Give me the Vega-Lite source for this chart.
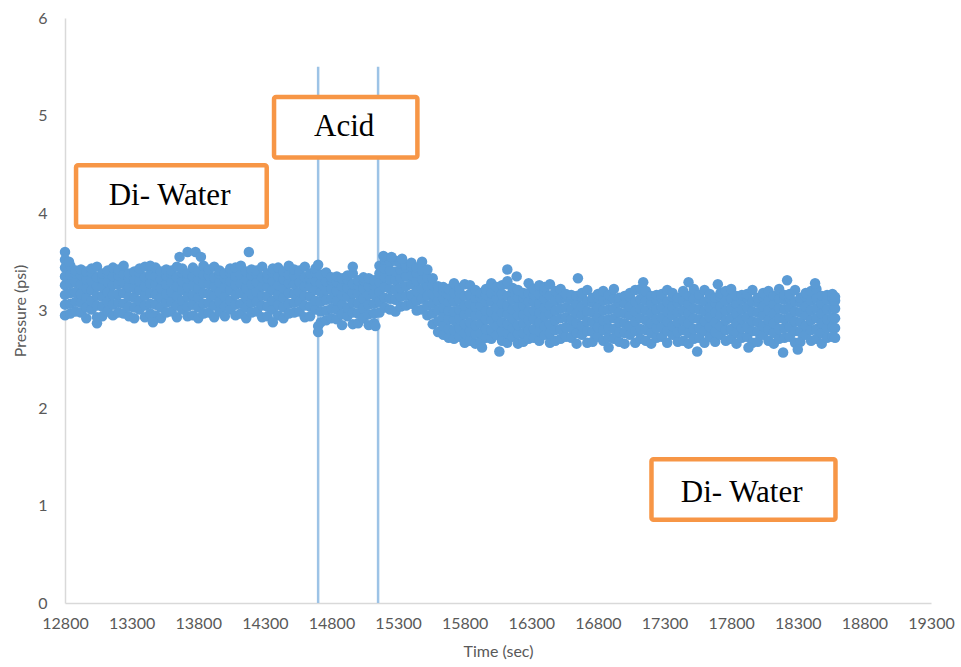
{
  "$schema": "https://vega.github.io/schema/vega-lite/v6.json",
  "width": 866,
  "height": 585,
  "autosize": {"type": "none"},
  "padding": {"left": 65, "top": 18, "right": 30, "bottom": 64},
  "background": "white",
  "config": {
    "view": {"stroke": null},
    "axis": {"labelFont": "Lato", "titleFont": "Lato", "labelColor": "#595959", "titleColor": "#595959", "titleFontWeight": "normal", "domainColor": "#d9d9d9", "domainWidth": 1.5, "ticks": false, "grid": false}
  },
  "layer": [
    {
      "data": {"values": [{"t": 14700}, {"t": 15150}]},
      "mark": {"type": "rule", "color": "#9DC3E6", "strokeWidth": 2.5},
      "encoding": {
        "x": {"field": "t", "type": "quantitative", "scale": {"domain": [12800, 19300], "nice": false, "zero": false},
          "axis": {"title": "Time (sec)", "values": [12800, 13300, 13800, 14300, 14800, 15300, 15800, 16300, 16800, 17300, 17800, 18300, 18800, 19300], "format": "d", "labelFontSize": 16, "labelPadding": 12, "labelOverlap": false, "labelFlush": false, "titleFontSize": 16, "titlePadding": 12}},
        "y": {"datum": 0, "type": "quantitative", "scale": {"domain": [0, 6], "nice": false},
          "axis": {"title": "Pressure (psi)", "values": [0, 1, 2, 3, 4, 5, 6], "format": "d", "labelFontSize": 16, "labelPadding": 18, "titleFontSize": 16, "titlePadding": 9}},
        "y2": {"datum": 5.5}
      }
    },
    {
      "data": {"values": [
{"t":12800,"p":[2.95,3.06,3.16,3.26,3.35,3.44]},
{"t":12840,"p":[2.97,3.07,3.18,3.28,3.37,3.46]},
{"t":12880,"p":[2.99,3.09,3.19,3.29,3.38,3.41]},
{"t":12920,"p":[2.98,3.08,3.17,3.27,3.36,3.42]},
{"t":12960,"p":[2.92,3.03,3.13,3.23,3.32,3.40]},
{"t":13000,"p":[3.01,3.10,3.21,3.30,3.39,3.43]},
{"t":13040,"p":[2.93,3.05,3.15,3.25,3.34,3.45]},
{"t":13080,"p":[2.94,3.04,3.14,3.24,3.33,3.38]},
{"t":13120,"p":[2.99,3.09,3.19,3.29,3.38,3.41]},
{"t":13160,"p":[2.95,3.06,3.16,3.26,3.35,3.44]},
{"t":13200,"p":[2.98,3.08,3.17,3.27,3.36,3.42]},
{"t":13240,"p":[2.97,3.07,3.18,3.28,3.37,3.46]},
{"t":13280,"p":[2.94,3.04,3.14,3.24,3.33,3.38]},
{"t":13320,"p":[2.92,3.03,3.13,3.23,3.32,3.40]},
{"t":13360,"p":[3.01,3.10,3.21,3.30,3.39,3.43]},
{"t":13400,"p":[2.93,3.05,3.15,3.25,3.34,3.45]},
{"t":13440,"p":[2.97,3.07,3.18,3.28,3.37,3.46]},
{"t":13480,"p":[2.95,3.06,3.16,3.26,3.35,3.44]},
{"t":13520,"p":[2.92,3.03,3.13,3.23,3.32,3.40]},
{"t":13560,"p":[2.98,3.08,3.17,3.27,3.36,3.42]},
{"t":13600,"p":[2.99,3.09,3.19,3.29,3.38,3.41]},
{"t":13640,"p":[2.93,3.05,3.15,3.25,3.34,3.45]},
{"t":13680,"p":[3.01,3.10,3.21,3.30,3.39,3.43]},
{"t":13720,"p":[2.94,3.04,3.14,3.24,3.33,3.38]},
{"t":13760,"p":[2.95,3.06,3.16,3.26,3.35,3.44]},
{"t":13800,"p":[2.92,3.03,3.13,3.23,3.32,3.40]},
{"t":13840,"p":[2.97,3.07,3.18,3.28,3.37,3.46]},
{"t":13880,"p":[2.98,3.08,3.17,3.27,3.36,3.42]},
{"t":13920,"p":[2.93,3.05,3.15,3.25,3.34,3.45]},
{"t":13960,"p":[2.99,3.09,3.19,3.29,3.38,3.41]},
{"t":14000,"p":[2.94,3.04,3.14,3.24,3.33,3.38]},
{"t":14040,"p":[3.01,3.10,3.21,3.30,3.39,3.43]},
{"t":14080,"p":[2.95,3.06,3.16,3.26,3.35,3.44]},
{"t":14120,"p":[2.97,3.07,3.18,3.28,3.37,3.46]},
{"t":14160,"p":[2.92,3.03,3.13,3.23,3.32,3.40]},
{"t":14200,"p":[2.98,3.08,3.17,3.27,3.36,3.42]},
{"t":14240,"p":[2.99,3.09,3.19,3.29,3.38,3.41]},
{"t":14280,"p":[2.93,3.05,3.15,3.25,3.34,3.45]},
{"t":14320,"p":[2.94,3.04,3.14,3.24,3.33,3.38]},
{"t":14360,"p":[3.01,3.10,3.21,3.30,3.39,3.43]},
{"t":14400,"p":[2.95,3.06,3.16,3.26,3.35,3.44]},
{"t":14440,"p":[2.92,3.03,3.13,3.23,3.32,3.40]},
{"t":14480,"p":[2.97,3.07,3.18,3.28,3.37,3.46]},
{"t":14520,"p":[2.98,3.08,3.17,3.27,3.36,3.42]},
{"t":14560,"p":[2.99,3.09,3.19,3.29,3.38,3.41]},
{"t":14600,"p":[2.93,3.05,3.15,3.25,3.34,3.45]},
{"t":14640,"p":[2.94,3.04,3.14,3.24,3.33,3.38]},
{"t":14680,"p":[3.01,3.10,3.21,3.30,3.39,3.43]},
{"t":14720,"p":[2.88,2.99,3.09,3.19,3.28,3.37]},
{"t":14760,"p":[2.90,3.00,3.11,3.21,3.30,3.39]},
{"t":14800,"p":[2.92,3.02,3.12,3.22,3.31,3.34]},
{"t":14840,"p":[2.91,3.01,3.10,3.20,3.29,3.35]},
{"t":14880,"p":[2.85,2.96,3.06,3.16,3.25,3.33]},
{"t":14920,"p":[2.94,3.03,3.14,3.23,3.32,3.36]},
{"t":14960,"p":[2.86,2.98,3.08,3.18,3.27,3.38]},
{"t":15000,"p":[2.87,2.97,3.07,3.17,3.26,3.31]},
{"t":15040,"p":[2.92,3.02,3.12,3.22,3.31,3.34]},
{"t":15080,"p":[2.85,2.96,3.06,3.16,3.25,3.33]},
{"t":15120,"p":[2.87,2.97,3.07,3.17,3.26,3.31]},
{"t":15160,"p":[2.98,3.09,3.19,3.29,3.38,3.46]},
{"t":15200,"p":[3.03,3.13,3.24,3.34,3.43,3.52]},
{"t":15240,"p":[3.01,3.12,3.22,3.32,3.41,3.50]},
{"t":15280,"p":[2.99,3.11,3.21,3.31,3.40,3.51]},
{"t":15320,"p":[3.04,3.14,3.23,3.33,3.42,3.48]},
{"t":15360,"p":[3.05,3.15,3.25,3.35,3.44,3.47]},
{"t":15400,"p":[3.07,3.16,3.27,3.36,3.45,3.49]},
{"t":15440,"p":[3.00,3.10,3.20,3.30,3.39,3.44]},
{"t":15480,"p":[3.01,3.12,3.22,3.32,3.41,3.50]},
{"t":15520,"p":[2.95,3.05,3.15,3.25,3.34,3.42]},
{"t":15560,"p":[2.86,2.97,3.07,3.17,3.26,3.33]},
{"t":15600,"p":[2.78,2.89,3.00,3.10,3.19,3.25]},
{"t":15640,"p":[2.75,2.84,2.94,3.03,3.12,3.20,3.24]},
{"t":15680,"p":[2.72,2.81,2.91,3.00,3.09,3.16,3.22]},
{"t":15720,"p":[2.71,2.80,2.90,2.99,3.09,3.18,3.28]},
{"t":15760,"p":[2.73,2.82,2.92,3.01,3.11,3.19,3.23]},
{"t":15800,"p":[2.67,2.77,2.86,2.96,3.05,3.15,3.27]},
{"t":15840,"p":[2.69,2.79,2.88,2.98,3.07,3.17,3.26]},
{"t":15880,"p":[2.66,2.76,2.85,2.95,3.04,3.13,3.21]},
{"t":15920,"p":[2.68,2.77,2.87,2.96,3.05,3.13,3.18]},
{"t":15960,"p":[2.72,2.81,2.91,3.00,3.09,3.16,3.22]},
{"t":16000,"p":[2.71,2.80,2.90,2.99,3.09,3.18,3.28]},
{"t":16040,"p":[2.75,2.84,2.94,3.03,3.12,3.20,3.24]},
{"t":16080,"p":[2.69,2.79,2.88,2.98,3.07,3.17,3.26]},
{"t":16120,"p":[2.67,2.77,2.86,2.96,3.05,3.15,3.27]},
{"t":16160,"p":[2.73,2.82,2.92,3.01,3.11,3.19,3.23]},
{"t":16200,"p":[2.66,2.76,2.85,2.95,3.04,3.13,3.21]},
{"t":16240,"p":[2.68,2.77,2.87,2.96,3.05,3.13,3.18]},
{"t":16280,"p":[2.71,2.80,2.90,2.99,3.09,3.18,3.28]},
{"t":16320,"p":[2.72,2.81,2.91,3.00,3.09,3.16,3.22]},
{"t":16360,"p":[2.69,2.79,2.88,2.98,3.07,3.17,3.26]},
{"t":16400,"p":[2.75,2.84,2.94,3.03,3.12,3.20,3.24]},
{"t":16440,"p":[2.67,2.77,2.86,2.96,3.05,3.15,3.27]},
{"t":16480,"p":[2.69,2.80,2.90,3.00,3.10,3.20]},
{"t":16520,"p":[2.71,2.81,2.92,3.02,3.12,3.22]},
{"t":16560,"p":[2.73,2.83,2.93,3.03,3.13,3.17]},
{"t":16600,"p":[2.72,2.82,2.91,3.01,3.11,3.16]},
{"t":16640,"p":[2.66,2.77,2.87,2.97,3.07,3.15]},
{"t":16680,"p":[2.75,2.84,2.95,3.04,3.14,3.18]},
{"t":16720,"p":[2.67,2.79,2.89,2.99,3.09,3.21]},
{"t":16760,"p":[2.68,2.78,2.88,2.98,3.08,3.13]},
{"t":16800,"p":[2.73,2.83,2.93,3.03,3.13,3.17]},
{"t":16840,"p":[2.69,2.80,2.90,3.00,3.10,3.20]},
{"t":16880,"p":[2.72,2.82,2.91,3.01,3.11,3.16]},
{"t":16920,"p":[2.71,2.81,2.92,3.02,3.12,3.22]},
{"t":16960,"p":[2.68,2.78,2.88,2.98,3.08,3.13]},
{"t":17000,"p":[2.66,2.77,2.87,2.97,3.07,3.15]},
{"t":17040,"p":[2.75,2.84,2.95,3.04,3.14,3.18]},
{"t":17080,"p":[2.67,2.79,2.89,2.99,3.09,3.21]},
{"t":17120,"p":[2.71,2.81,2.92,3.02,3.12,3.22]},
{"t":17160,"p":[2.69,2.80,2.90,3.00,3.10,3.20]},
{"t":17200,"p":[2.66,2.77,2.87,2.97,3.07,3.15]},
{"t":17240,"p":[2.72,2.82,2.91,3.01,3.11,3.16]},
{"t":17280,"p":[2.73,2.83,2.93,3.03,3.13,3.17]},
{"t":17320,"p":[2.67,2.79,2.89,2.99,3.09,3.21]},
{"t":17360,"p":[2.75,2.84,2.95,3.04,3.14,3.18]},
{"t":17400,"p":[2.68,2.78,2.88,2.98,3.08,3.13]},
{"t":17440,"p":[2.69,2.80,2.90,3.00,3.10,3.20]},
{"t":17480,"p":[2.66,2.77,2.87,2.97,3.07,3.15]},
{"t":17520,"p":[2.71,2.81,2.92,3.02,3.12,3.22]},
{"t":17560,"p":[2.72,2.82,2.91,3.01,3.11,3.16]},
{"t":17600,"p":[2.67,2.79,2.89,2.99,3.09,3.21]},
{"t":17640,"p":[2.73,2.83,2.93,3.03,3.13,3.17]},
{"t":17680,"p":[2.68,2.78,2.88,2.98,3.08,3.13]},
{"t":17720,"p":[2.75,2.84,2.95,3.04,3.14,3.18]},
{"t":17760,"p":[2.69,2.80,2.90,3.00,3.10,3.20]},
{"t":17800,"p":[2.71,2.81,2.92,3.02,3.12,3.22]},
{"t":17840,"p":[2.66,2.77,2.87,2.97,3.07,3.15]},
{"t":17880,"p":[2.72,2.82,2.91,3.01,3.11,3.16]},
{"t":17920,"p":[2.73,2.83,2.93,3.03,3.13,3.17]},
{"t":17960,"p":[2.67,2.79,2.89,2.99,3.09,3.21]},
{"t":18000,"p":[2.68,2.78,2.88,2.98,3.08,3.13]},
{"t":18040,"p":[2.75,2.84,2.95,3.04,3.14,3.18]},
{"t":18080,"p":[2.69,2.80,2.90,3.00,3.10,3.20]},
{"t":18120,"p":[2.66,2.77,2.87,2.97,3.07,3.15]},
{"t":18160,"p":[2.71,2.81,2.92,3.02,3.12,3.22]},
{"t":18200,"p":[2.72,2.82,2.91,3.01,3.11,3.16]},
{"t":18240,"p":[2.73,2.83,2.93,3.03,3.13,3.17]},
{"t":18280,"p":[2.67,2.79,2.89,2.99,3.09,3.21]},
{"t":18320,"p":[2.68,2.78,2.88,2.98,3.08,3.13]},
{"t":18360,"p":[2.75,2.84,2.95,3.04,3.14,3.18]},
{"t":18400,"p":[2.69,2.80,2.90,3.00,3.10,3.20]},
{"t":18440,"p":[2.71,2.81,2.92,3.02,3.12,3.22]},
{"t":18480,"p":[2.66,2.77,2.87,2.97,3.07,3.15]},
{"t":18520,"p":[2.72,2.82,2.91,3.01,3.11,3.16]},
{"t":18560,"p":[2.73,2.83,2.93,3.03,3.13,3.17]},
{"t":18580,"p":[2.72,2.82,2.92,3.02,3.10,3.14]},
{"t":12800,"p":[3.60,3.52]},
{"t":12830,"p":[3.50]},
{"t":13040,"p":[2.87]},
{"t":13460,"p":[2.88]},
{"t":13660,"p":[3.55]},
{"t":13720,"p":[3.60]},
{"t":13780,"p":[3.60]},
{"t":13820,"p":[3.55]},
{"t":14180,"p":[3.60]},
{"t":14360,"p":[2.88]},
{"t":14700,"p":[3.47,2.84,2.78]},
{"t":14960,"p":[3.45]},
{"t":15130,"p":[2.84]},
{"t":15190,"p":[3.56]},
{"t":15250,"p":[3.55]},
{"t":15330,"p":[3.53]},
{"t":15930,"p":[2.62]},
{"t":16060,"p":[2.58]},
{"t":16120,"p":[3.42,3.30]},
{"t":16190,"p":[3.35]},
{"t":16650,"p":[3.33]},
{"t":16880,"p":[2.62]},
{"t":17140,"p":[3.29]},
{"t":17480,"p":[3.29]},
{"t":17545,"p":[2.58]},
{"t":17700,"p":[3.27]},
{"t":17930,"p":[2.62]},
{"t":18190,"p":[2.57]},
{"t":18220,"p":[3.31]},
{"t":18300,"p":[2.60]},
{"t":18430,"p":[3.28]}
      ]},
      "transform": [{"flatten": ["p"]}],
      "mark": {"type": "circle", "size": 110, "color": "#5B9BD5", "opacity": 1},
      "encoding": {
        "x": {"field": "t", "type": "quantitative"},
        "y": {"field": "p", "type": "quantitative"}
      }
    },
    {
      "data": {"values": [
        {"t": 12883, "t2": 14314, "p": 3.86, "p2": 4.49},
        {"t": 14369, "t2": 15445, "p": 4.57, "p2": 5.19},
        {"t": 17202, "t2": 18583, "p": 0.854, "p2": 1.474}
      ]},
      "mark": {"type": "rect", "fill": "white", "stroke": "#F79646", "strokeWidth": 4.5, "cornerRadius": 2},
      "encoding": {
        "x": {"field": "t", "type": "quantitative"},
        "x2": {"field": "t2"},
        "y": {"field": "p", "type": "quantitative"},
        "y2": {"field": "p2"}
      }
    },
    {
      "data": {"values": [
        {"t": 13585, "p": 4.08, "label": "Di- Water"},
        {"t": 14895, "p": 4.79, "label": "Acid"},
        {"t": 17879, "p": 1.036, "label": "Di- Water"}
      ]},
      "mark": {"type": "text", "font": "Liberation Serif", "fontSize": 31, "baseline": "alphabetic", "align": "center", "color": "#000000"},
      "encoding": {
        "x": {"field": "t", "type": "quantitative"},
        "y": {"field": "p", "type": "quantitative"},
        "text": {"field": "label"}
      }
    }
  ]
}
